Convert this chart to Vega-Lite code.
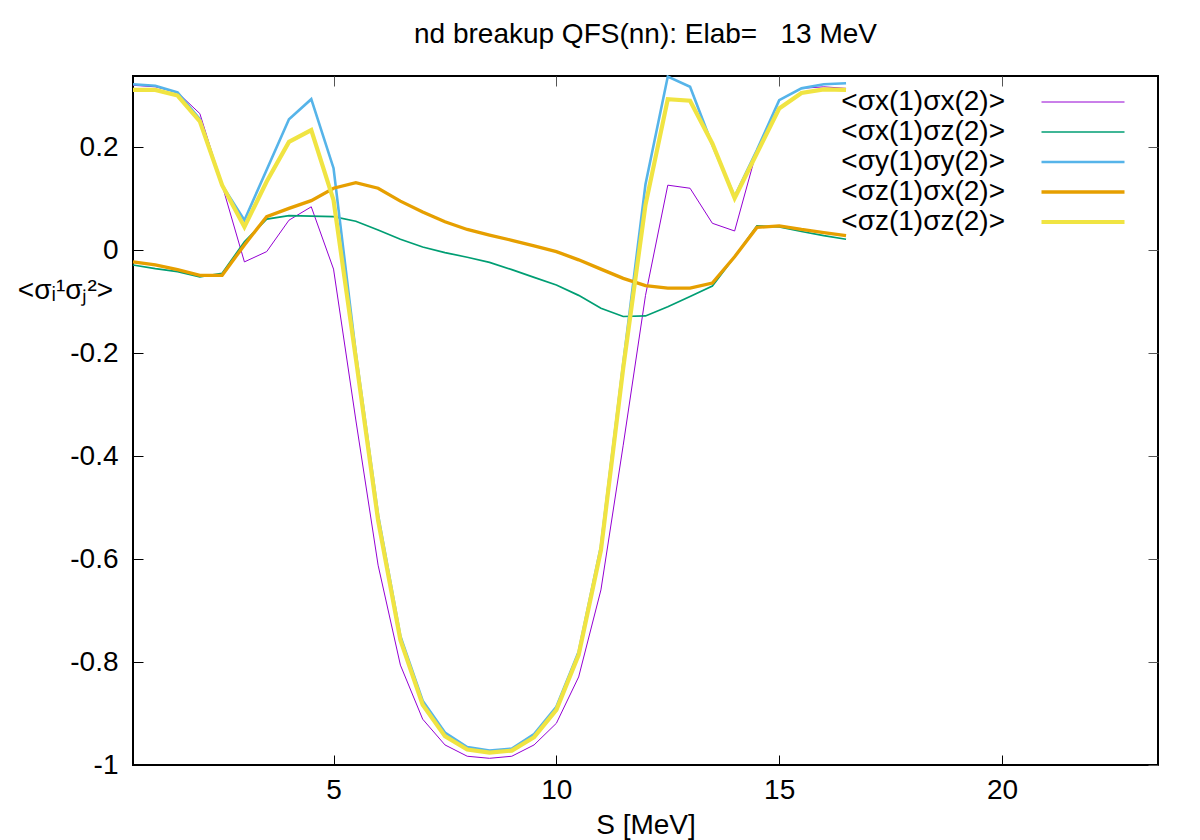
{
  "$schema": "https://vega.github.io/schema/vega-lite/v6.json",
  "width": 1025,
  "height": 689,
  "autosize": {"type": "none"},
  "padding": {"left": 133, "top": 76, "right": 42, "bottom": 75},
  "background": "white",
  "title": {"text": "nd breakup QFS(nn): Elab=\u00a0\u00a0\u00a013 MeV", "font": "Liberation Sans", "fontSize": 28, "fontWeight": "normal", "anchor": "middle", "baseline": "alphabetic", "offset": 0, "color": "black"},
  "config": {
    "view": {"stroke": "black", "strokeWidth": 2},
    "font": "Liberation Sans",
    "axis": {"domain": false, "grid": false, "ticks": true, "tickSize": -10, "tickColor": "black", "tickWidth": 1, "labelFont": "Liberation Sans", "labelFontSize": 28, "labelColor": "black", "titleFont": "Liberation Sans", "titleFontSize": 28, "titleFontWeight": "normal", "titleColor": "black"}
  },
  "data": {"values": [
    {"s":0.5,"series":"xx","v":0.320},{"s":0.5,"series":"xz","v":-0.029},{"s":0.5,"series":"yy","v":0.322},{"s":0.5,"series":"zx","v":-0.023},{"s":0.5,"series":"zz","v":0.311},
    {"s":1.0,"series":"xx","v":0.317},{"s":1.0,"series":"xz","v":-0.036},{"s":1.0,"series":"yy","v":0.319},{"s":1.0,"series":"zx","v":-0.029},{"s":1.0,"series":"zz","v":0.311},
    {"s":1.5,"series":"xx","v":0.306},{"s":1.5,"series":"xz","v":-0.042},{"s":1.5,"series":"yy","v":0.306},{"s":1.5,"series":"zx","v":-0.038},{"s":1.5,"series":"zz","v":0.300},
    {"s":2.0,"series":"xx","v":0.265},{"s":2.0,"series":"xz","v":-0.052},{"s":2.0,"series":"yy","v":0.254},{"s":2.0,"series":"zx","v":-0.049},{"s":2.0,"series":"zz","v":0.250},
    {"s":2.5,"series":"xx","v":0.126},{"s":2.5,"series":"xz","v":-0.045},{"s":2.5,"series":"yy","v":0.126},{"s":2.5,"series":"zx","v":-0.049},{"s":2.5,"series":"zz","v":0.126},
    {"s":3.0,"series":"xx","v":-0.023},{"s":3.0,"series":"xz","v":0.016},{"s":3.0,"series":"yy","v":0.058},{"s":3.0,"series":"zx","v":0.010},{"s":3.0,"series":"zz","v":0.045},
    {"s":3.5,"series":"xx","v":-0.003},{"s":3.5,"series":"xz","v":0.060},{"s":3.5,"series":"yy","v":0.156},{"s":3.5,"series":"zx","v":0.065},{"s":3.5,"series":"zz","v":0.133},
    {"s":4.0,"series":"xx","v":0.058},{"s":4.0,"series":"xz","v":0.067},{"s":4.0,"series":"yy","v":0.254},{"s":4.0,"series":"zx","v":0.081},{"s":4.0,"series":"zz","v":0.210},
    {"s":4.5,"series":"xx","v":0.084},{"s":4.5,"series":"xz","v":0.066},{"s":4.5,"series":"yy","v":0.293},{"s":4.5,"series":"zx","v":0.096},{"s":4.5,"series":"zz","v":0.233},
    {"s":5.0,"series":"xx","v":-0.037},{"s":5.0,"series":"xz","v":0.065},{"s":5.0,"series":"yy","v":0.159},{"s":5.0,"series":"zx","v":0.120},{"s":5.0,"series":"zz","v":0.097},
    {"s":5.5,"series":"xx","v":-0.330},{"s":5.5,"series":"xz","v":0.056},{"s":5.5,"series":"yy","v":-0.200},{"s":5.5,"series":"zx","v":0.131},{"s":5.5,"series":"zz","v":-0.210},
    {"s":6.0,"series":"xx","v":-0.612},{"s":6.0,"series":"xz","v":0.039},{"s":6.0,"series":"yy","v":-0.515},{"s":6.0,"series":"zx","v":0.120},{"s":6.0,"series":"zz","v":-0.525},
    {"s":6.5,"series":"xx","v":-0.806},{"s":6.5,"series":"xz","v":0.021},{"s":6.5,"series":"yy","v":-0.750},{"s":6.5,"series":"zx","v":0.095},{"s":6.5,"series":"zz","v":-0.757},
    {"s":7.0,"series":"xx","v":-0.911},{"s":7.0,"series":"xz","v":0.006},{"s":7.0,"series":"yy","v":-0.875},{"s":7.0,"series":"zx","v":0.074},{"s":7.0,"series":"zz","v":-0.883},
    {"s":7.5,"series":"xx","v":-0.961},{"s":7.5,"series":"xz","v":-0.005},{"s":7.5,"series":"yy","v":-0.937},{"s":7.5,"series":"zx","v":0.055},{"s":7.5,"series":"zz","v":-0.944},
    {"s":8.0,"series":"xx","v":-0.983},{"s":8.0,"series":"xz","v":-0.014},{"s":8.0,"series":"yy","v":-0.965},{"s":8.0,"series":"zx","v":0.040},{"s":8.0,"series":"zz","v":-0.970},
    {"s":8.5,"series":"xx","v":-0.987},{"s":8.5,"series":"xz","v":-0.024},{"s":8.5,"series":"yy","v":-0.972},{"s":8.5,"series":"zx","v":0.029},{"s":8.5,"series":"zz","v":-0.976},
    {"s":9.0,"series":"xx","v":-0.983},{"s":9.0,"series":"xz","v":-0.038},{"s":9.0,"series":"yy","v":-0.968},{"s":9.0,"series":"zx","v":0.019},{"s":9.0,"series":"zz","v":-0.972},
    {"s":9.5,"series":"xx","v":-0.961},{"s":9.5,"series":"xz","v":-0.053},{"s":9.5,"series":"yy","v":-0.940},{"s":9.5,"series":"zx","v":0.008},{"s":9.5,"series":"zz","v":-0.946},
    {"s":10.0,"series":"xx","v":-0.919},{"s":10.0,"series":"xz","v":-0.068},{"s":10.0,"series":"yy","v":-0.887},{"s":10.0,"series":"zx","v":-0.003},{"s":10.0,"series":"zz","v":-0.893},
    {"s":10.5,"series":"xx","v":-0.829},{"s":10.5,"series":"xz","v":-0.088},{"s":10.5,"series":"yy","v":-0.780},{"s":10.5,"series":"zx","v":-0.019},{"s":10.5,"series":"zz","v":-0.786},
    {"s":11.0,"series":"xx","v":-0.660},{"s":11.0,"series":"xz","v":-0.113},{"s":11.0,"series":"yy","v":-0.575},{"s":11.0,"series":"zx","v":-0.037},{"s":11.0,"series":"zz","v":-0.583},
    {"s":11.5,"series":"xx","v":-0.379},{"s":11.5,"series":"xz","v":-0.129},{"s":11.5,"series":"yy","v":-0.220},{"s":11.5,"series":"zx","v":-0.055},{"s":11.5,"series":"zz","v":-0.229},
    {"s":12.0,"series":"xx","v":-0.088},{"s":12.0,"series":"xz","v":-0.128},{"s":12.0,"series":"yy","v":0.128},{"s":12.0,"series":"zx","v":-0.069},{"s":12.0,"series":"zz","v":0.088},
    {"s":12.5,"series":"xx","v":0.126},{"s":12.5,"series":"xz","v":-0.110},{"s":12.5,"series":"yy","v":0.337},{"s":12.5,"series":"zx","v":-0.074},{"s":12.5,"series":"zz","v":0.293},
    {"s":13.0,"series":"xx","v":0.120},{"s":13.0,"series":"xz","v":-0.090},{"s":13.0,"series":"yy","v":0.317},{"s":13.0,"series":"zx","v":-0.074},{"s":13.0,"series":"zz","v":0.290},
    {"s":13.5,"series":"xx","v":0.052},{"s":13.5,"series":"xz","v":-0.070},{"s":13.5,"series":"yy","v":0.204},{"s":13.5,"series":"zx","v":-0.064},{"s":13.5,"series":"zz","v":0.207},
    {"s":14.0,"series":"xx","v":0.037},{"s":14.0,"series":"xz","v":-0.013},{"s":14.0,"series":"yy","v":0.104},{"s":14.0,"series":"zx","v":-0.013},{"s":14.0,"series":"zz","v":0.101},
    {"s":14.5,"series":"xx","v":0.194},{"s":14.5,"series":"xz","v":0.047},{"s":14.5,"series":"yy","v":0.194},{"s":14.5,"series":"zx","v":0.044},{"s":14.5,"series":"zz","v":0.188},
    {"s":15.0,"series":"xx","v":0.291},{"s":15.0,"series":"xz","v":0.045},{"s":15.0,"series":"yy","v":0.291},{"s":15.0,"series":"zx","v":0.047},{"s":15.0,"series":"zz","v":0.275},
    {"s":15.5,"series":"xx","v":0.314},{"s":15.5,"series":"xz","v":0.036},{"s":15.5,"series":"yy","v":0.314},{"s":15.5,"series":"zx","v":0.040},{"s":15.5,"series":"zz","v":0.305},
    {"s":16.0,"series":"xx","v":0.317},{"s":16.0,"series":"xz","v":0.028},{"s":16.0,"series":"yy","v":0.322},{"s":16.0,"series":"zx","v":0.034},{"s":16.0,"series":"zz","v":0.312},
    {"s":16.5,"series":"xx","v":0.314},{"s":16.5,"series":"xz","v":0.021},{"s":16.5,"series":"yy","v":0.324},{"s":16.5,"series":"zx","v":0.028},{"s":16.5,"series":"zz","v":0.311}
  ]},
  "layer": [
    {
      "mark": {"type": "line", "strokeOpacity": 0},
      "encoding": {
        "x": {"field": "s", "type": "quantitative", "scale": {"domain": [0.5, 23.5], "nice": false, "zero": false},
              "axis": {"orient": "top", "labels": false, "title": null, "values": [5, 10, 15, 20], "tickColor": "#555555"}},
        "y": {"field": "v", "type": "quantitative", "scale": {"domain": [-1, 0.338], "nice": false, "zero": false},
              "axis": {"orient": "right", "labels": false, "title": null, "values": [-1, -0.8, -0.6, -0.4, -0.2, 0, 0.2], "tickColor": "#555555"}},
        "detail": {"field": "series"}
      }
    },
    {
      "transform": [{"filter": "datum.series == 'xx'"}],
      "mark": {"type": "line", "strokeWidth": 1},
      "encoding": {
        "x": {"field": "s", "type": "quantitative",
              "axis": {"orient": "bottom", "values": [5, 10, 15, 20], "labelPadding": 21, "title": "S [MeV]", "titlePadding": 7}},
        "y": {"field": "v", "type": "quantitative",
              "axis": {"orient": "left", "values": [-1, -0.8, -0.6, -0.4, -0.2, 0, 0.2], "labelPadding": 25, "labelExpr": "'' + datum.value",
                       "title": "<σᵢ¹σⱼ²>", "titleAngle": 0, "titleX": -68, "titleY": 214, "titleAlign": "center", "titleBaseline": "middle"}},
        "color": {"field": "series", "type": "nominal",
                  "scale": {"domain": ["xx", "xz", "yy", "zx", "zz"], "range": ["#9400d3", "#009e73", "#56b4e9", "#e69f00", "#f0e442"]},
                  "legend": {"orient": "none", "legendX": 936, "legendY": 12, "title": null, "symbolType": "stroke", "symbolSize": 6889, "rowPadding": 2, "padding": 0,
                             "labelAlign": "right", "labelOffset": -92, "labelFontSize": 28, "labelFont": "Liberation Sans", "labelColor": "black", "labelBaseline": "middle", "labelLimit": 400,
                             "labelExpr": "datum.label == 'xx' ? '<σx(1)σx(2)>' : datum.label == 'xz' ? '<σx(1)σz(2)>' : datum.label == 'yy' ? '<σy(1)σy(2)>' : datum.label == 'zx' ? '<σz(1)σx(2)>' : '<σz(1)σz(2)>'",
                             "encode": {"symbols": {"update": {"strokeWidth": {"signal": "datum.value == 'xx' ? 1 : datum.value == 'xz' ? 1.7 : datum.value == 'yy' ? 2.6 : datum.value == 'zx' ? 3.3 : 4.2"}}}}}}
      }
    },
    {
      "transform": [{"filter": "datum.series == 'xz'"}],
      "mark": {"type": "line", "strokeWidth": 1.7},
      "encoding": {
        "x": {"field": "s", "type": "quantitative", "axis": null},
        "y": {"field": "v", "type": "quantitative", "axis": null},
        "color": {"field": "series", "type": "nominal"}
      }
    },
    {
      "transform": [{"filter": "datum.series == 'yy'"}],
      "mark": {"type": "line", "strokeWidth": 2.6},
      "encoding": {
        "x": {"field": "s", "type": "quantitative", "axis": null},
        "y": {"field": "v", "type": "quantitative", "axis": null},
        "color": {"field": "series", "type": "nominal"}
      }
    },
    {
      "transform": [{"filter": "datum.series == 'zx'"}],
      "mark": {"type": "line", "strokeWidth": 3.3},
      "encoding": {
        "x": {"field": "s", "type": "quantitative", "axis": null},
        "y": {"field": "v", "type": "quantitative", "axis": null},
        "color": {"field": "series", "type": "nominal"}
      }
    },
    {
      "transform": [{"filter": "datum.series == 'zz'"}],
      "mark": {"type": "line", "strokeWidth": 4.2},
      "encoding": {
        "x": {"field": "s", "type": "quantitative", "axis": null},
        "y": {"field": "v", "type": "quantitative", "axis": null},
        "color": {"field": "series", "type": "nominal"}
      }
    }
  ],
  "resolve": {"axis": {"x": "independent", "y": "independent"}}
}
